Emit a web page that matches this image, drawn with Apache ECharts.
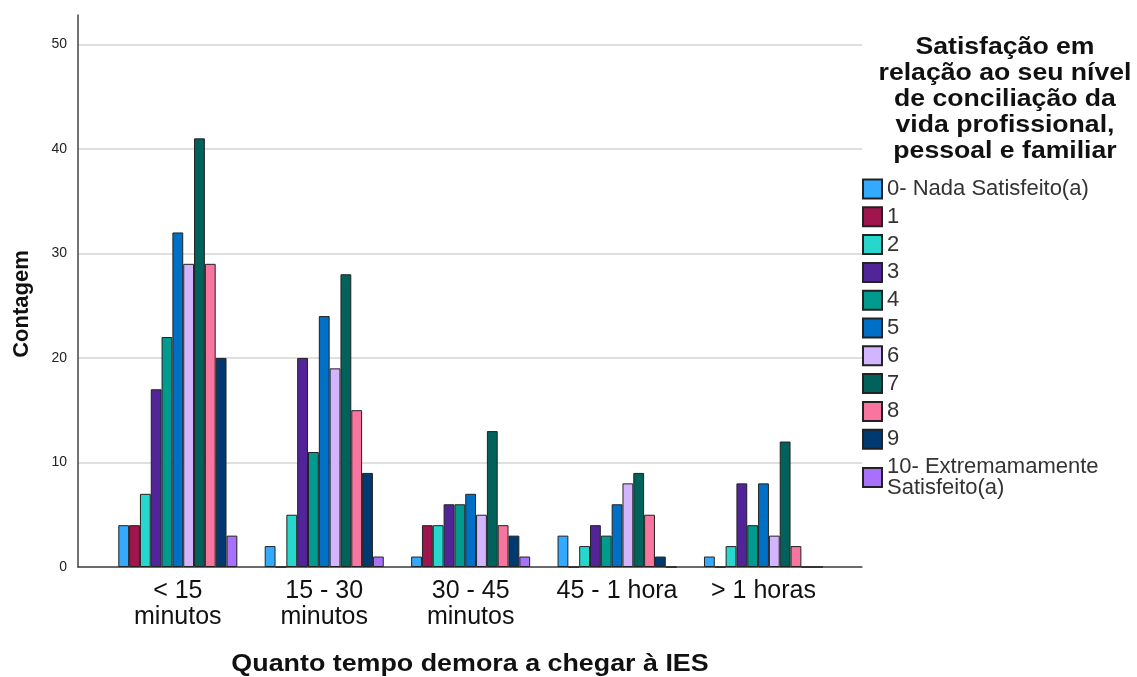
<!DOCTYPE html>
<html>
<head>
<meta charset="utf-8">
<script src="https://cdn.jsdelivr.net/npm/echarts@6/dist/echarts.min.js"></script>
<style>html,body{margin:0;padding:0;background:#fff}#c{width:1137px;height:677px}</style>
</head>
<body>
<div id="c"></div>
<script>
var categories = ["< 15\nminutos", "15 - 30\nminutos", "30 - 45\nminutos", "45 - 1 hora", "> 1 horas"];
var seriesNames = ["0- Nada Satisfeito(a)", "1", "2", "3", "4", "5", "6", "7", "8", "9", "10- Extremamamente\nSatisfeito(a)"];
var s0 = [4, 2, 1, 3, 1];
var s1 = [4, 0, 4, 0, 0];
var s2 = [7, 5, 4, 2, 2];
var s3 = [17, 20, 6, 4, 8];
var s4 = [22, 11, 6, 3, 4];
var s5 = [32, 24, 7, 6, 8];
var s6 = [29, 19, 5, 8, 3];
var s7 = [41, 28, 13, 9, 12];
var s8 = [29, 15, 4, 5, 2];
var s9 = [20, 9, 3, 1, 0];
var s10 = [3, 1, 1, 0, 0];
var yTicks = [0, 10, 20, 30, 40, 50];
var colors = ["#33aaff", "#a1154f", "#27d6cd", "#51249a", "#009a8f", "#0070c6", "#d3b5ff", "#00625a", "#f7759f", "#003a70", "#a870fb"];

var allSeries = [s0, s1, s2, s3, s4, s5, s6, s7, s8, s9, s10];
var FONT = "'Liberation Sans', Arial, sans-serif";

var chart = echarts.init(document.getElementById('c'), null, {renderer: 'canvas'});
var series = allSeries.map(function (d, i) {
  return {
    name: seriesNames[i],
    type: 'bar',
    xAxisIndex: 1,
    yAxisIndex: 1,
    data: d,
    barGap: '0%',
    barCategoryGap: '18.7%',
    itemStyle: {color: colors[i], borderColor: '#222', borderWidth: 1},
    emphasis: {disabled: true}
  };
});

var gridColors = yTicks.map(function () { return '#d4d4d4'; });
gridColors.push('rgba(0,0,0,0)');

chart.setOption({
  animation: false,
  textStyle: {fontFamily: FONT},
  grid: [
    {left: 78, right: 275, top: 15, bottom: 110},
    {left: 104.6, right: 300.3, top: 15, bottom: 110}
  ],
  xAxis: [
    {type: 'category', gridIndex: 0, data: categories, axisLine: {show: true, lineStyle: {color: '#444', width: 1.5}}, axisTick: {show: false}, axisLabel: {show: false}, splitLine: {show: false}},
    {type: 'category', gridIndex: 1, data: categories, axisLine: {show: false}, axisTick: {show: false},
     axisLabel: {color: '#111', fontSize: 25, lineHeight: 26, margin: 11, fontFamily: FONT, interval: 0}}
  ],
  yAxis: [
    {type: 'value', gridIndex: 0, min: 0, max: 52.8, interval: 10,
     axisLine: {show: true, lineStyle: {color: '#444', width: 1.5}}, axisTick: {show: false},
     axisLabel: {color: '#222', fontSize: 14, margin: 11, showMaxLabel: false, fontFamily: FONT},
     splitLine: {show: true, lineStyle: {color: gridColors, width: 1.5}}},
    {type: 'value', gridIndex: 1, min: 0, max: 52.8, interval: 10, show: false, splitLine: {show: false}}
  ],
  legend: {
    orient: 'vertical', left: 862, top: 178, padding: 0,
    itemWidth: 19, itemHeight: 19, itemGap: 5.8,
    icon: 'rect',
    data: seriesNames,
    selectedMode: false,
    textStyle: {color: '#333', fontSize: 22, lineHeight: 21, fontFamily: FONT}
  },
  graphic: [
    {type: 'text', x: 1005, y: 35, scaleX: 1.157, style: {text: 'Satisfação em\nrelação ao seu nível\nde conciliação da\nvida profissional,\npessoal e familiar',
      font: 'bold 23px ' + FONT, fill: '#111', align: 'center', verticalAlign: 'top', lineHeight: 26}},
    {type: 'text', x: 22, y: 304, rotation: Math.PI / 2, style: {text: 'Contagem', font: 'bold 22px ' + FONT, fill: '#111', align: 'center', verticalAlign: 'middle'}},
    {type: 'text', x: 470, y: 665, scaleX: 1.167, style: {text: 'Quanto tempo demora a chegar à IES', font: 'bold 23px ' + FONT, fill: '#111', align: 'center', verticalAlign: 'middle'}}
  ],
  series: series
});
</script>
</body>
</html>
